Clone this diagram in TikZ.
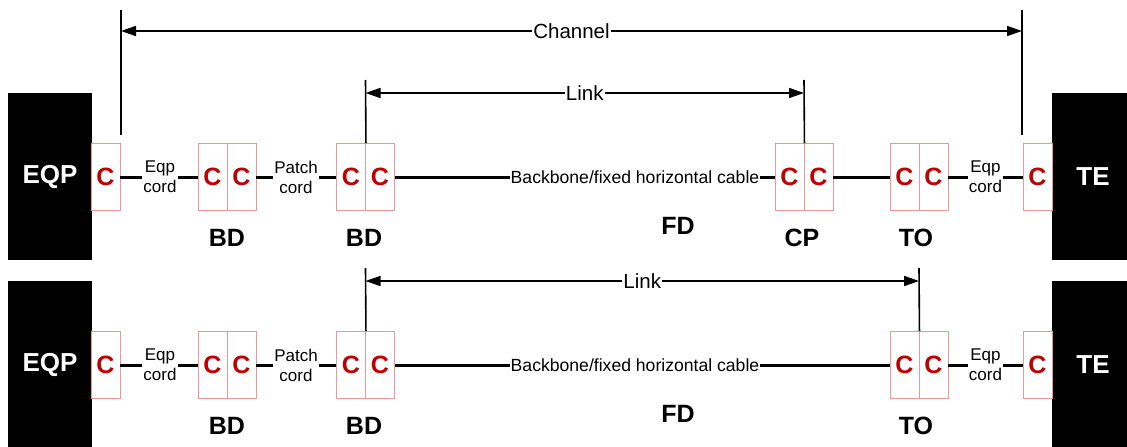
\documentclass[tikz,border=0pt]{standalone}
\usepackage{fontspec}
\setmainfont{Liberation Sans}
\usetikzlibrary{arrows.meta}
\definecolor{cred}{HTML}{C00000}
\definecolor{cborder}{HTML}{E89A9A}
\begin{document}
\begin{tikzpicture}[x=1pt,y=-1pt,
  cbox/.style={draw=cborder, line width=0.9pt, minimum width=29pt, minimum height=67pt, inner sep=0pt, text=cred, font=\fontsize{25}{30}\selectfont\bfseries},
  blk/.style={fill=black, minimum height=167pt, inner sep=0pt, text=white, font=\fontsize{26}{30}\selectfont\bfseries},
  cable/.style={line width=3pt},
  markline/.style={line width=1.6pt},
  dimarrow/.style={line width=1.6pt, {Triangle[length=15pt,width=10pt]}-{Triangle[length=15pt,width=10pt]}},
  cordtxt/.style={fill=white, inner sep=1pt, align=center, font=\fontsize{17}{20}\selectfont},
  bbtxt/.style={fill=white, inner sep=1pt, font=\fontsize{17.6}{20}\selectfont},
  dimtxt/.style={fill=white, inner sep=1pt, font=\fontsize{20.5}{24}\selectfont},
  lbl/.style={font=\fontsize{25}{30}\selectfont\bfseries}
]
\clip (0,0) rectangle (1127,447);
\useasboundingbox (0,0) rectangle (1127,447);
% ---------- Top row ----------
\node[blk, minimum width=84pt] (eqpA) at (50,176.5) {EQP};
\node[blk, minimum width=82pt] (teA) at (1093,176.5) {TE};
\node[cbox] (c1A) at (105.5,177) {C};
\node[cbox] (bd1aA) at (212.5,177) {C};
\node[cbox] (bd1bA) at (241.5,177) {C};
\node[cbox] (bd2aA) at (351,177) {C};
\node[cbox] (bd2bA) at (380,177) {C};
\node[cbox] (cpaA) at (789.5,177) {C};
\node[cbox] (cpbA) at (818.5,177) {C};
\node[cbox] (toaA) at (904.5,177) {C};
\node[cbox] (tobA) at (933.5,177) {C};
\node[cbox] (rcA) at (1037.5,177) {C};
\node[cordtxt] (ec1A) at (160,177) {Eqp\\cord};
\node[cordtxt] (pcA) at (296,177) {Patch\\cord};
\node[bbtxt] (bbA) at (635,177) {Backbone/fixed horizontal cable};
\node[cordtxt] (ec2A) at (985.5,177) {Eqp\\cord};
\draw[cable] (c1A) -- (ec1A) -- (bd1aA);
\draw[cable] (bd1bA) -- (pcA) -- (bd2aA);
\draw[cable] (bd2bA) -- (bbA) -- (cpaA);
\draw[cable] (cpbA) -- (toaA);
\draw[cable] (tobA) -- (ec2A) -- (rcA);
\node[lbl] (lbd1A) at (227,238) {BD};
\node[lbl] (lbd2A) at (364,238) {BD};
\node[lbl] (lfdA) at (678,226) {FD};
\node[lbl] (lcpA) at (802,238) {CP};
\node[lbl] (ltoA) at (916,238) {TO};
% channel
\coordinate (chLt) at (121,10);
\coordinate (chLb) at (121,135);
\coordinate (chRt) at (1022,10);
\coordinate (chRb) at (1022,135);
\coordinate (chL) at (121,31);
\coordinate (chR) at (1022,31);
\draw[markline] (chLt) -- (chLb);
\draw[markline] (chRt) -- (chRb);
\draw[dimarrow] (chL) -- node[dimtxt] (chtxt) {Channel} (chR);
% link top
\coordinate (lkLtA) at (365.5,80);
\coordinate (lkRtA) at (804,80);
\coordinate (lkLA) at (365.5,93);
\coordinate (lkRA) at (804,93);
\draw[markline] (lkLtA) -- (bd2aA.north east);
\draw[markline] (lkRtA) -- (cpaA.north east);
\draw[dimarrow] (lkLA) -- node[dimtxt] (lktxtA) {Link} (lkRA);
% ---------- Bottom row ----------
\node[blk, minimum width=84pt] (eqpB) at (50,364.5) {EQP};
\node[blk, minimum width=82pt] (teB) at (1093,364.5) {TE};
\node[cbox] (c1B) at (105.5,365) {C};
\node[cbox] (bd1aB) at (212.5,365) {C};
\node[cbox] (bd1bB) at (241.5,365) {C};
\node[cbox] (bd2aB) at (351,365) {C};
\node[cbox] (bd2bB) at (380,365) {C};
\node[cbox] (toaB) at (904.5,365) {C};
\node[cbox] (tobB) at (933.5,365) {C};
\node[cbox] (rcB) at (1037.5,365) {C};
\node[cordtxt] (ec1B) at (160,365) {Eqp\\cord};
\node[cordtxt] (pcB) at (296,365) {Patch\\cord};
\node[bbtxt] (bbB) at (635,365) {Backbone/fixed horizontal cable};
\node[cordtxt] (ec2B) at (985.5,365) {Eqp\\cord};
\draw[cable] (c1B) -- (ec1B) -- (bd1aB);
\draw[cable] (bd1bB) -- (pcB) -- (bd2aB);
\draw[cable] (bd2bB) -- (bbB) -- (toaB);
\draw[cable] (tobB) -- (ec2B) -- (rcB);
\node[lbl] (lbd1B) at (227,426) {BD};
\node[lbl] (lbd2B) at (364,426) {BD};
\node[lbl] (lfdB) at (678,414) {FD};
\node[lbl] (ltoB) at (916,426) {TO};
% link bottom
\coordinate (lkLtB) at (365.5,268);
\coordinate (lkRtB) at (919,268);
\coordinate (lkLB) at (365.5,281);
\coordinate (lkRB) at (919,281);
\draw[markline] (lkLtB) -- (bd2aB.north east);
\draw[markline] (lkRtB) -- (toaB.north east);
\draw[dimarrow] (lkLB) -- node[dimtxt] (lktxtB) {Link} (lkRB);
\end{tikzpicture}
\end{document}
